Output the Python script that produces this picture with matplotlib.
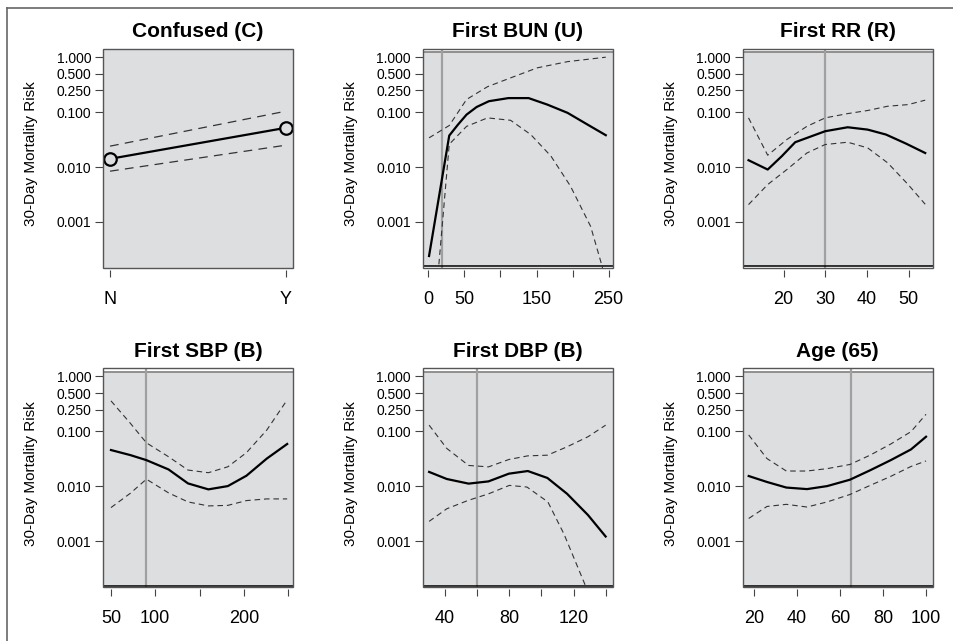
import numpy as np
import matplotlib.pyplot as plt
from matplotlib.lines import Line2D
from matplotlib.patches import Rectangle

plt.rcParams['font.family'] = ['Liberation Sans', 'DejaVu Sans']

# --- data (risk on log scale) ---
conf_x = [0, 1]
conf_labels = ['N', 'Y']
conf_fit = [0.0141, 0.0518]
conf_hi = [0.024, 0.104]
conf_lo = [0.0084, 0.025]

bun_x = [1, 29, 41, 53, 67, 84, 111, 139, 165, 193, 221, 246]
bun_fit = [2.4e-4, 0.0374, 0.059, 0.090, 0.124, 0.158, 0.18, 0.18, 0.137, 0.097, 0.059, 0.038]
bun_hi_x = [1, 29, 53, 82, 114, 151, 193, 246]
bun_hi = [0.034, 0.057, 0.17, 0.29, 0.42, 0.64, 0.83, 1.0]
bun_lo_x = [0, 29, 53, 82, 114, 142, 170, 197, 225, 241, 250]
bun_lo = [1e-6, 0.026, 0.055, 0.0785, 0.071, 0.039, 0.0158, 0.0045, 8.3e-4, 1.55e-4, 4e-5]

rr_x = [11.6, 16.2, 19.6, 22.8, 30, 35.4, 40.2, 44.6, 49.4, 54]
rr_fit = [0.0133, 0.0090, 0.0158, 0.0283, 0.0449, 0.053, 0.048, 0.039, 0.0267, 0.018]
rr_ci_x = [11.6, 16.2, 20.8, 25.6, 30, 35.4, 40.2, 45, 49.9, 54]
rr_hi = [0.0785, 0.0164, 0.0317, 0.055, 0.0785, 0.094, 0.107, 0.128, 0.137, 0.165]
rr_lo = [0.00207, 0.0048, 0.009, 0.018, 0.0257, 0.0283, 0.0223, 0.0119, 0.0048, 0.0021]

sbp_x = [50, 72, 90, 115, 137, 160, 182, 203, 226, 249]
sbp_fit = [0.0458, 0.037, 0.030, 0.0203, 0.0113, 0.0088, 0.0101, 0.0156, 0.032, 0.059]
sbp_hi = [0.36, 0.14, 0.062, 0.0346, 0.0198, 0.0177, 0.0227, 0.041, 0.106, 0.375]
sbp_lo = [0.0041, 0.0075, 0.0135, 0.0076, 0.0052, 0.0044, 0.0045, 0.0055, 0.0059, 0.0059]

dbp_x = [30, 41, 54.6, 67, 79.7, 91.5, 103.7, 116, 129, 140]
dbp_fit = [0.0183, 0.0136, 0.0112, 0.0123, 0.017, 0.019, 0.0142, 0.0073, 0.0030, 0.00122]
dbp_hi = [0.13, 0.049, 0.024, 0.0226, 0.0308, 0.0359, 0.0369, 0.0525, 0.080, 0.13]
dbp_lo_x = [30, 41, 54, 67, 80, 91, 104, 114, 127, 140]
dbp_lo = [0.0023, 0.0039, 0.0055, 0.0073, 0.0104, 0.0097, 0.0052, 0.00136, 1.66e-4, 1e-5]

age_x = [17.5, 26, 35, 44.6, 54, 64.6, 74, 83.6, 93, 100]
age_fit = [0.0154, 0.012, 0.0095, 0.0089, 0.0101, 0.0132, 0.0196, 0.030, 0.047, 0.080]
age_hi = [0.086, 0.032, 0.019, 0.019, 0.021, 0.025, 0.037, 0.059, 0.099, 0.205]
age_lo = [0.0026, 0.0043, 0.0047, 0.0042, 0.0052, 0.0071, 0.0104, 0.0152, 0.023, 0.029]

y_ticks = [0.001, 0.01, 0.1, 0.25, 0.5, 1.0]
y_ticklabels = ['0.001', '0.010', '0.100', '0.250', '0.500', '1.000']

BG = '#dddee0'
FRAME = '#555555'

fig = plt.figure(figsize=(9.54, 6.41), dpi=100)

# outer frame: top and left edges only
fig.add_artist(Line2D([7 / 954, 1], [1 - 8 / 641, 1 - 8 / 641], transform=fig.transFigure,
                      color='#666666', lw=1.2))
fig.add_artist(Line2D([7 / 954, 7 / 954], [0, 1 - 8 / 641], transform=fig.transFigure,
                      color='#666666', lw=1.2))

lefts = [103 / 954, 422.7 / 954, 742.7 / 954]
bottoms = [(641 - 268) / 641, (641 - 587.3) / 641]
w = 190 / 954
h = 219.5 / 641


def make_axes(col, row, title, xlim, xticks, xticklabels, shaded=True, ref=None):
    ax = fig.add_axes([lefts[col], bottoms[row], w, h])
    ax.set_yscale('log')
    ax.set_ylim(1.45e-4, 1.44)
    ax.set_xlim(*xlim)
    ax.set_facecolor('white' if shaded else BG)
    for s in ax.spines.values():
        s.set_visible(False)
    ax.add_patch(Rectangle((0, 0), 1, 1, transform=ax.transAxes, fill=False,
                           edgecolor=FRAME, lw=1.0, zorder=5, clip_on=False))
    if shaded:
        ax.axhspan(1.55e-4, 1.23, color=BG, zorder=0, lw=0)
        ax.axhline(1.23, color='#888888', lw=1.3, zorder=1)
        ax.axhline(1.55e-4, color='black', lw=1.1, zorder=4)
    if ref is not None:
        ax.axvline(ref, color='#a0a0a0', lw=1.6, zorder=1)
    ax.spines['bottom'].set_position(('outward', 1.5))
    ax.set_yticks(y_ticks)
    ax.set_yticklabels(y_ticklabels)
    ax.yaxis.set_minor_locator(plt.NullLocator())
    ax.set_xticks(xticks)
    ax.set_xticklabels(xticklabels)
    ax.tick_params(axis='y', direction='out', length=5.5, width=0.8, color='#444444',
                   labelsize=10, pad=3)
    ax.tick_params(axis='x', direction='out', length=5, width=0.8, color='#444444',
                   labelsize=13, pad=10)
    ax.set_ylabel('30-Day Mortality Risk', fontsize=11)
    ax.yaxis.set_label_coords(-0.34, 0.52)
    ax.set_title(title, fontsize=15, fontweight='bold', pad=8)
    return ax


def draw(ax, x, fit, xhi, hi, xlo, lo):
    ax.plot(x, fit, color='black', lw=1.6, zorder=3)
    ax.plot(xhi, hi, color='#333333', lw=0.8, ls=(0, (5, 3.5)), zorder=2)
    ax.plot(xlo, lo, color='#333333', lw=0.8, ls=(0, (5, 3.5)), zorder=2)


# Confused
ax = make_axes(0, 0, 'Confused (C)', (-0.04, 1.04), conf_x, conf_labels, shaded=False)
ax.plot(conf_x, conf_hi, color='#333333', lw=0.9, ls=(0, (7, 5)), zorder=2)
ax.plot(conf_x, conf_lo, color='#333333', lw=0.9, ls=(0, (7, 5)), zorder=2)
ax.plot(conf_x, conf_fit, color='black', lw=1.6, zorder=3)
ax.plot(conf_x, conf_fit, 'o', ms=9, mfc=BG, mec='black', mew=1.6, zorder=4, clip_on=False)

# First BUN
ax = make_axes(1, 0, 'First BUN (U)', (-7.8, 255.6), [0, 50, 100, 150, 200, 250],
               ['0', '50', '', '150', '', '250'], ref=19)
draw(ax, bun_x, bun_fit, bun_hi_x, bun_hi, bun_lo_x, bun_lo)

# First RR
ax = make_axes(2, 0, 'First RR (R)', (10.2, 55.8), [20, 30, 40, 50],
               ['20', '30', '40', '50'], ref=30)
draw(ax, rr_x, rr_fit, rr_ci_x, rr_hi, rr_ci_x, rr_lo)

# First SBP
ax = make_axes(0, 1, 'First SBP (B)', (41, 255.6), [50, 100, 150, 200, 250],
               ['50', '100', '', '200', ''], ref=90)
draw(ax, sbp_x, sbp_fit, sbp_x, sbp_hi, sbp_x, sbp_lo)

# First DBP
ax = make_axes(1, 1, 'First DBP (B)', (26, 144.4), [40, 60, 80, 100, 120, 140],
               ['40', '', '80', '', '120', ''], ref=60)
draw(ax, dbp_x, dbp_fit, dbp_x, dbp_hi, dbp_lo_x, dbp_lo)

# Age
ax = make_axes(2, 1, 'Age (65)', (14.7, 103.1), [20, 40, 60, 80, 100],
               ['20', '40', '60', '80', '100'], ref=65)
draw(ax, age_x, age_fit, age_x, age_hi, age_x, age_lo)

fig.savefig('out.png', dpi=100)
